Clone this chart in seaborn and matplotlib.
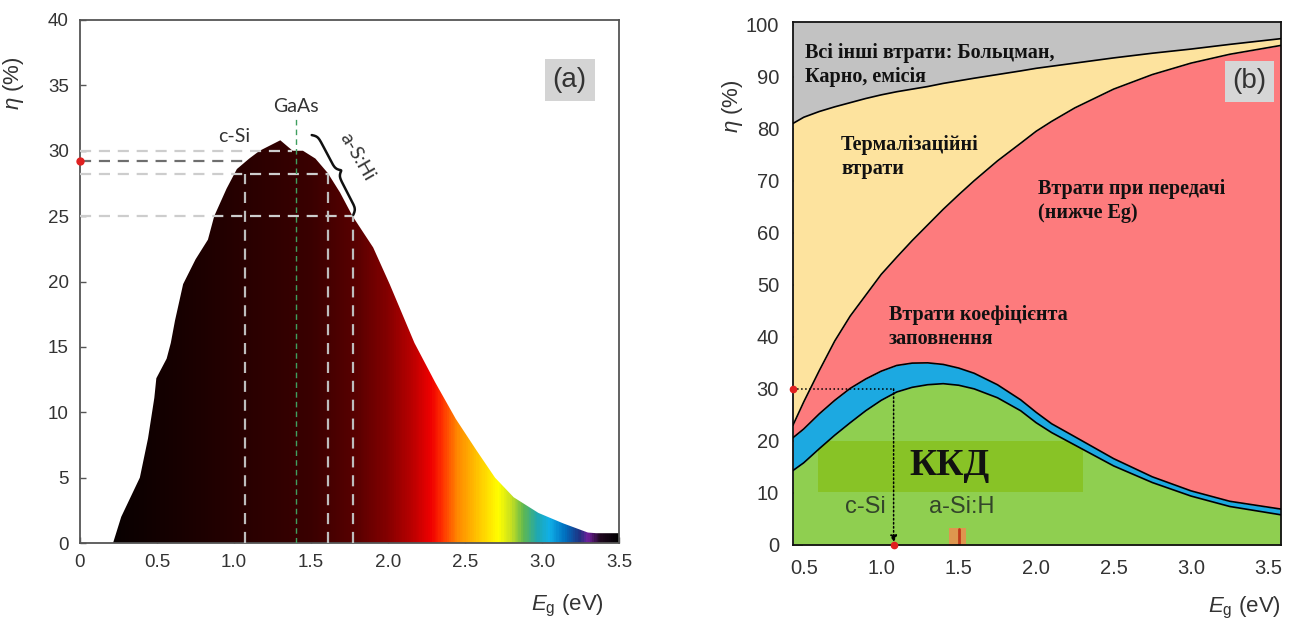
import matplotlib
matplotlib.use("Agg")
import matplotlib.pyplot as plt
import numpy as np
import seaborn as sns
from matplotlib.colors import LinearSegmentedColormap
from matplotlib.patches import Rectangle

# ---- (a) efficiency limit vs band gap
eg_a = [0.0, 0.215, 0.268, 0.389, 0.442, 0.483, 0.496, 0.563, 0.59, 0.617, 0.670,
        0.751, 0.831, 0.872, 0.952, 1.019, 1.099, 1.167, 1.301, 1.381, 1.448,
        1.529, 1.609, 1.689, 1.770, 1.904, 2.011, 2.172, 2.306, 2.440, 2.574,
        2.695, 2.816, 2.977, 3.138, 3.298, 3.352, 3.5]
eta_a = [0, 0, 2.0, 5.0, 8.0, 11.1, 12.6, 14.1, 15.3, 17.0, 19.8,
         21.7, 23.2, 25.0, 27.1, 28.6, 29.4, 30.0, 30.8, 30.0, 30.0,
         29.4, 28.3, 26.8, 25.0, 22.6, 19.8, 15.3, 12.3, 9.5, 7.1,
         5.0, 3.5, 2.3, 1.5, 0.8, 0.75, 0.75]

# spectrum colour along the band-gap axis
spec_eg = [0.0, 0.2, 0.6, 1.0, 1.5, 1.8, 2.0, 2.15, 2.28, 2.35, 2.45, 2.6, 2.72,
           2.8, 2.88, 2.97, 3.05, 3.15, 3.25, 3.3, 3.38, 3.5]
spec_col = ["#000000", "#080000", "#160000", "#260000", "#3a0000", "#5a0000",
            "#850000", "#b80000", "#f00000", "#ff3000", "#ff8800", "#ffcc00",
            "#ffff00", "#c8e020", "#60b850", "#20a8b0", "#10b0e8", "#0070c0",
            "#203080", "#7020a0", "#200820", "#000000"]

# reference gaps in (a)
csi_eg, csi_eta = 1.07, 29.2
gaas_eg, gaas_eta = 1.40, 30.0
asi_eg = [1.61, 1.77]
asi_eta = [28.2, 25.0]

# ---- (b) loss breakdown
eg_b = [0.43, 0.5, 0.6, 0.7, 0.8, 0.9, 1.0, 1.1, 1.2, 1.3, 1.4, 1.5, 1.6, 1.75,
        1.9, 2.0, 2.1, 2.25, 2.5, 2.75, 3.0, 3.25, 3.58]
eff_b = [14.3, 15.8, 18.5, 21.1, 23.5, 25.8, 27.8, 29.4, 30.3, 30.8, 31.0, 30.7,
         30.0, 28.3, 25.8, 23.5, 21.6, 19.2, 15.2, 12.0, 9.4, 7.4, 5.8]
ff_b = [20.6, 22.3, 25.2, 27.8, 30.1, 31.9, 33.4, 34.5, 34.95, 35.0, 34.7, 34.0,
        33.0, 30.8, 27.9, 25.5, 23.3, 20.8, 16.6, 13.1, 10.4, 8.4, 6.9]
trans_b = [23.0, 27.5, 33.5, 39.2, 44.0, 48.0, 52.0, 55.3, 58.5, 61.5, 64.5, 67.3,
           70.0, 73.8, 77.2, 79.5, 81.4, 84.0, 87.6, 90.4, 92.6, 94.3, 96.0]
therm_b = [81.0, 82.2, 83.3, 84.2, 85.0, 85.8, 86.5, 87.1, 87.6, 88.1, 88.7, 89.2,
           89.7, 90.4, 91.1, 91.6, 92.0, 92.6, 93.6, 94.5, 95.3, 96.2, 97.3]

sns.set_theme(style="ticks")
plt.rcParams["font.family"] = ["Liberation Sans", "DejaVu Sans"]
plt.rcParams["mathtext.fontset"] = "custom"
plt.rcParams["mathtext.it"] = "Liberation Sans:italic"
plt.rcParams["mathtext.rm"] = "Liberation Sans"

fig = plt.figure(figsize=(13.02, 6.25), dpi=100)
ax1 = fig.add_axes([0.0614, 0.1312, 0.414, 0.8368])
ax2 = fig.add_axes([0.609, 0.128, 0.3748, 0.8368])

# ================= (a) =================
ax1.set_xlim(0, 3.5)
ax1.set_ylim(0, 40)
cmap = LinearSegmentedColormap.from_list(
    "spec", list(zip(np.array(spec_eg) / 3.5, spec_col)))
poly = ax1.fill_between(eg_a, eta_a, color="none", lw=0)
grad = np.linspace(0, 1, 600)[None, :]
img = ax1.imshow(grad, cmap=cmap, aspect="auto", extent=[0, 3.5, 0, 32],
                 origin="lower", zorder=1)
img.set_clip_path(poly.get_paths()[0], transform=ax1.transData)
ax1.set_xlim(0, 3.5)
ax1.set_ylim(0, 40)

light = "#cdcdcd"
dash = dict(ls=(0, (5, 3.5)), lw=1.6, zorder=3)
ax1.plot([0, gaas_eg - 0.02], [gaas_eta, gaas_eta], color=light, **dash)
ax1.plot([0, csi_eg], [csi_eta, csi_eta], color="#6e6e6e", **dash)
ax1.plot([0, asi_eg[0]], [asi_eta[0], asi_eta[0]], color=light, **dash)
ax1.plot([0, asi_eg[1]], [asi_eta[1], asi_eta[1]], color=light, **dash)
ax1.plot([csi_eg, csi_eg], [0, asi_eta[0]], color="#bdbdbd", **dash)
ax1.plot([asi_eg[0], asi_eg[0]], [0, asi_eta[0]], color="#bdbdbd", **dash)
ax1.plot([asi_eg[1], asi_eg[1]], [0, asi_eta[1]], color="#bdbdbd", **dash)
ax1.plot([gaas_eg, gaas_eg], [0, 32.4], color="#3f9f5f", ls=(0, (4, 3)),
         lw=1.0, zorder=3)
ax1.plot([0], [csi_eta], "o", color="#e02020", ms=5, clip_on=False, zorder=5)

# curly brace for the a-Si:H range (drawn in pixels)
b0 = ax1.transData.transform((1.505, 31.2))
b1 = ax1.transData.transform((1.775, 25.1))
bd = b1 - b0
blen = np.hypot(*bd)
bu = bd / blen
bn = np.array([-bu[1], bu[0]])
t = np.linspace(0, 1, 200)
th = np.where(t < 0.5, t, 1 - t)
shape = 0.5 * np.tanh(22 * th) + 0.5 * (1 + np.tanh(22 * (th - 0.5)))
pts = b0 + np.outer(t * blen, bu) + np.outer(10 * shape, bn)
ax1.plot(pts[:, 0], pts[:, 1], color="#111111", lw=1.8, transform=None,
         zorder=5, solid_capstyle="round")

lab = dict(family="Lato", fontsize=14, color="#333333", ha="center", va="center")
ax1.text(gaas_eg, 33.4, "GaAs", **lab)
ax1.text(1.0, 31.1, "c-Si", **lab)
ax1.text(1.80, 29.5, "a-S:Hi", rotation=-60, **lab)
ax1.text(3.18, 35.4, "(a)", fontsize=20, color="#333333", ha="center",
         va="center", bbox=dict(boxstyle="square,pad=0.28", fc="#d4d4d4", ec="none"))

ax1.set_xticks([0, 0.5, 1.0, 1.5, 2.0, 2.5, 3.0, 3.5])
ax1.set_xticklabels(["0", "0.5", "1.0", "1.5", "2.0", "2.5", "3.0", "3.5"])
ax1.set_yticks(range(0, 45, 5))
for s in ax1.spines.values():
    s.set_color("#555555")
    s.set_linewidth(1.3)
ax1.tick_params(direction="in", length=4, width=1, color="#555555",
                labelsize=13.5, labelcolor="#333333", pad=8)
ax1.set_ylabel(r"$\eta$ (%)", fontsize=16, color="#333333")
ax1.yaxis.set_label_coords(-0.10, 0.88)
ax1.set_xlabel(r"$E_{\rm g}$ (eV)", fontsize=16, color="#333333")
ax1.xaxis.set_label_coords(0.905, -0.095)

# ================= (b) =================
top = [100.5] * len(eg_b)
green = ax2.fill_between(eg_b, 0, eff_b, color="#8fcf50", lw=0)
ax2.fill_between(eg_b, eff_b, ff_b, color="#1ca9e1", lw=0)
ax2.fill_between(eg_b, ff_b, trans_b, color="#fd7b7d", lw=0)
ax2.fill_between(eg_b, trans_b, therm_b, color="#fde39e", lw=0)
ax2.fill_between(eg_b, therm_b, top, color="#c2c2c2", lw=0)
hl = Rectangle((0.59, 10.2), 1.71, 9.8, fc="#88c326", ec="none", zorder=2)
ax2.add_patch(hl)
hl.set_clip_path(green.get_paths()[0], transform=ax2.transData)
ax2.add_patch(Rectangle((1.44, 0), 0.11, 3.2, fc="#e8904e", ec="none", alpha=0.9, zorder=2))
ax2.plot([1.5, 1.5], [0, 3], color="#c03a1a", lw=2, zorder=2)
for yy in [eff_b, ff_b, trans_b, therm_b]:
    sns.lineplot(x=eg_b, y=yy, ax=ax2, color="black", lw=1.2, zorder=4)

# c-Si marker
ax2.plot([0.43, 1.08], [30, 30], color="black", ls=":", lw=1.1, zorder=5)
ax2.annotate("", xy=(1.08, 0.5), xytext=(1.08, 30),
             arrowprops=dict(arrowstyle="-|>", ls=":", lw=1.1, color="black",
                             shrinkA=0, shrinkB=0, mutation_scale=10), zorder=5)
ax2.plot([0.43, 1.08], [30, 0], "o", color="#e02020", ms=4.5, clip_on=False,
         zorder=6, ls="none")

serif = dict(family="Liberation Serif", fontweight="bold", fontsize=14.5,
             color="#111111", va="center", ha="left", linespacing=1.25)
ax2.text(0.51, 92.3, "Всі інші втрати: Больцман,\nКарно, емісія", **serif)
ax2.text(0.74, 74.5, "Термалізаційні\nвтрати", **serif)
ax2.text(2.01, 66.1, "Втрати при передачі\n(нижче Eg)", **serif)
ax2.text(1.05, 41.9, "Втрати коефіцієнта\nзаповнення", **serif)
ax2.text(1.44, 15.3, "ККД", family="Liberation Serif", fontweight="bold",
         fontsize=27, color="#111111", ha="center", va="center")
ax2.text(0.90, 7.3, "c-Si", fontsize=17, color="#33452a", ha="center", va="center")
ax2.text(1.52, 7.3, "a-Si:H", fontsize=17, color="#33452a", ha="center", va="center")
ax2.text(3.377, 89.1, "(b)", fontsize=20, color="#333333", ha="center",
         va="center", bbox=dict(boxstyle="square,pad=0.28", fc="#d6d6d6", ec="none"))

ax2.set_xlim(0.43, 3.58)
ax2.set_ylim(0, 100.5)
ax2.set_xticks([0.5, 1.0, 1.5, 2.0, 2.5, 3.0, 3.5])
ax2.set_xticklabels(["0.5", "1.0", "1.5", "2.0", "2.5", "3.0", "3.5"])
ax2.set_xticks(np.arange(0.75, 3.5, 0.5), minor=True)
ax2.set_yticks(range(0, 110, 10))
for s in ax2.spines.values():
    s.set_color("#111111")
    s.set_linewidth(1.3)
ax2.tick_params(which="both", direction="in", length=7, width=1.2, color="#111111",
                labelsize=14.5, labelcolor="#333333", pad=10)
ax2.set_ylabel(r"$\eta$ (%)", fontsize=16, color="#333333")
ax2.yaxis.set_label_coords(-0.098, 0.84)
ax2.set_xlabel(r"$E_{\rm g}$ (eV)", fontsize=16, color="#333333")
ax2.xaxis.set_label_coords(0.926, -0.095)

fig.savefig("out.png", dpi=100, facecolor="white")
